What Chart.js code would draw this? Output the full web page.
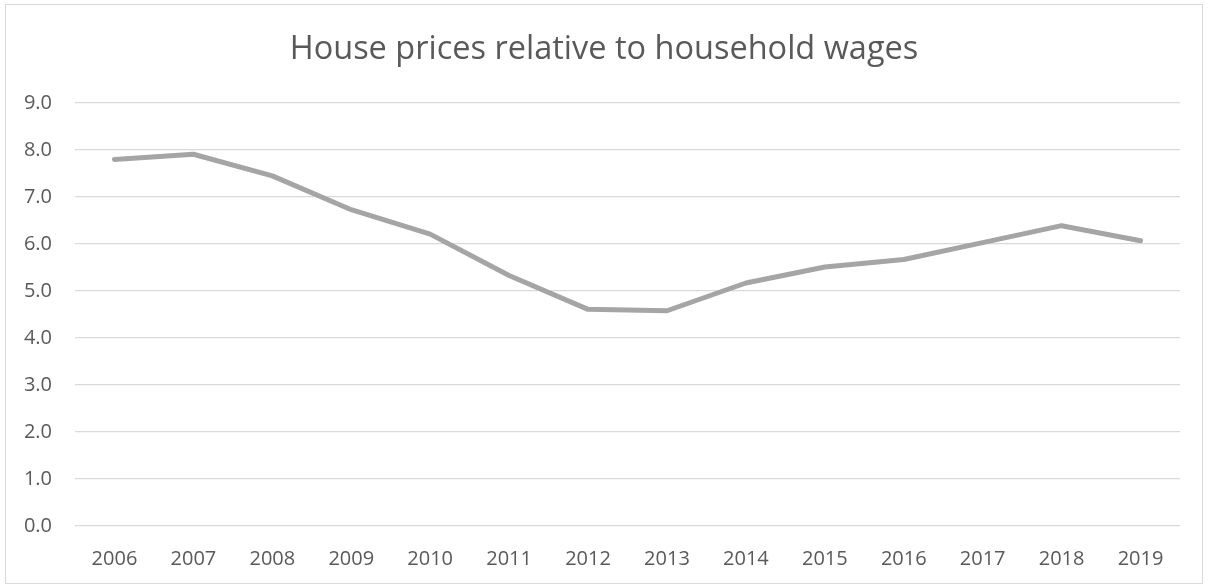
<!DOCTYPE html>
<html>
<head>
<meta charset="utf-8">
<script src="https://cdn.jsdelivr.net/npm/chart.js@4/dist/chart.umd.min.js"></script>
<style>
  html, body { margin: 0; padding: 0; background: #fff; }
  #wrap {
    position: absolute; left: 5px; top: 4px;
    width: 1196px; height: 578px;
    border: 1px solid #d9d9d9;
  }
</style>
</head>
<body>
<div id="wrap"><canvas id="chart" width="1196" height="578"></canvas></div>
<script>
const years = ['2006', '2007', '2008', '2009', '2010', '2011', '2012',
  '2013', '2014', '2015', '2016', '2017', '2018', '2019'];
const ratio = [7.80, 7.91, 7.45, 6.73, 6.21, 5.33, 4.61,
  4.58, 5.17, 5.51, 5.67, 6.03, 6.39, 6.07];
const yTicks = [0, 1, 2, 3, 4, 5, 6, 7, 8, 9];

const grey = '#595959';
const font = 'Open Sans';

new Chart(document.getElementById('chart'), {
  type: 'line',
  data: {
    labels: years,
    datasets: [{
      label: 'Ratio',
      data: ratio,
      borderColor: '#a5a5a5',
      borderWidth: 5,
      borderCapStyle: 'round',
      borderJoinStyle: 'round',
      pointRadius: 0,
      tension: 0,
      fill: false
    }]
  },
  options: {
    responsive: false,
    animation: false,
    layout: { padding: 0 },
    plugins: {
      legend: { display: false },
      tooltip: { enabled: false },
      title: {
        display: true,
        text: 'House prices relative to household wages',
        color: grey,
        font: { family: font, size: 32.5, weight: 'normal' },
        padding: { top: 25, bottom: 34 }
      }
    },
    scales: {
      x: {
        offset: true,
        grid: { display: false },
        border: { display: false },
        afterFit: (scale) => { scale.height = 57; },
        ticks: {
          color: grey,
          padding: 13,
          maxRotation: 0,
          autoSkip: false,
          font: { family: font, size: 20 }
        }
      },
      y: {
        min: 0,
        max: 9,
        afterBuildTicks: (scale) => {
          scale.ticks = yTicks.map(v => ({ value: v }));
        },
        afterFit: (scale) => { scale.width = 69; },
        grid: { color: '#d9d9d9', lineWidth: 1.3, drawTicks: false },
        border: { display: false },
        ticks: {
          color: grey,
          padding: 23,
          font: { family: font, size: 20 },
          callback: (v) => Number(v).toFixed(1)
        }
      },
      // empty right-hand spacer so the plot ends where the reference's does
      spacer: {
        type: 'linear',
        position: 'right',
        display: true,
        afterFit: (scale) => { scale.width = 22; },
        grid: { display: false },
        border: { display: false },
        ticks: { display: false }
      }
    }
  }
});
</script>
</body>
</html>
